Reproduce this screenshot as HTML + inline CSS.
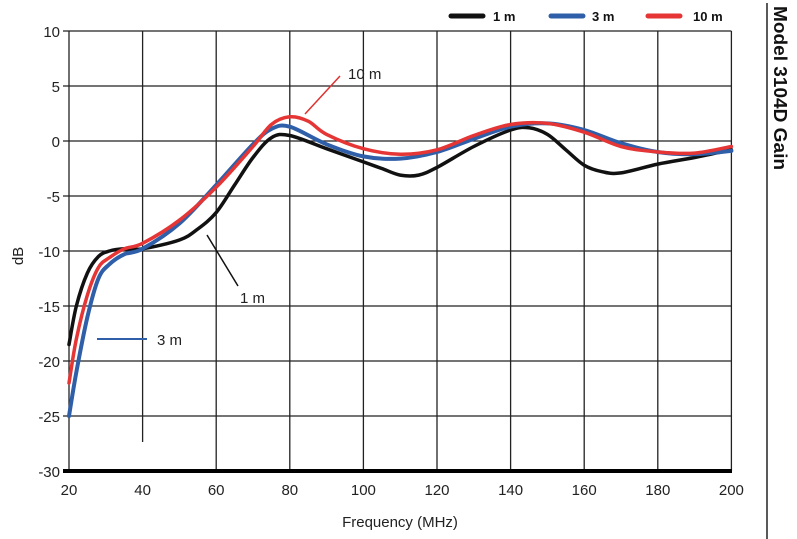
<!DOCTYPE html>
<html><head><meta charset="utf-8"><style>
html,body{margin:0;padding:0;background:#fff;}
svg{display:block;font-family:"Liberation Sans",sans-serif;}
</style></head><body>
<svg id="s" width="797" height="539" viewBox="0 0 797 539">
<g id="grid" stroke="#222" stroke-width="1.3" fill="none"></g>
<line x1="63" y1="471" x2="732" y2="471" stroke="#000" stroke-width="4"/>
<g id="ticks" font-size="15" fill="#222"></g>
<g id="curves" fill="none" stroke-linecap="round" stroke-linejoin="round"></g>
<line x1="305" y1="114" x2="340" y2="76" stroke="#e03030" stroke-width="1.5"/>
<text x="348" y="79" font-size="15" fill="#222">10 m</text>
<line x1="207" y1="235" x2="238" y2="286" stroke="#111" stroke-width="1.5"/>
<text x="240" y="303" font-size="15" fill="#222">1 m</text>
<line x1="97" y1="339" x2="147" y2="339" stroke="#2f5fa8" stroke-width="2"/>
<text x="157" y="345" font-size="15" fill="#222">3 m</text>
<line x1="451" y1="16" x2="483" y2="16" stroke="#111" stroke-width="5" stroke-linecap="round"/>
<text x="493" y="21" font-size="13" font-weight="bold" fill="#111">1 m</text>
<line x1="551" y1="16" x2="583" y2="16" stroke="#2f5fa8" stroke-width="5" stroke-linecap="round"/>
<text x="592" y="21" font-size="13" font-weight="bold" fill="#111">3 m</text>
<line x1="648" y1="16" x2="680" y2="16" stroke="#e53535" stroke-width="5" stroke-linecap="round"/>
<text x="693" y="21" font-size="13" font-weight="bold" fill="#111">10 m</text>
<text x="400" y="527" font-size="15" fill="#222" text-anchor="middle">Frequency (MHz)</text>
<text transform="translate(23,256) rotate(-90)" font-size="15" fill="#222" text-anchor="middle">dB</text>
<line x1="767" y1="3" x2="767" y2="539" stroke="#000" stroke-width="1.3"/>
<text transform="translate(774,6) rotate(90)" font-size="18" font-weight="bold" fill="#111" textLength="164" lengthAdjust="spacingAndGlyphs">Model 3104D Gain</text>
</svg>
<script>
var NS="http://www.w3.org/2000/svg";
function X(f){return 69+(f-20)*3.68;}
function Y(d){return 141-d*11.0;}
function el(p,tag,a,t){var e=document.createElementNS(NS,tag);for(var k in a)e.setAttribute(k,a[k]);if(t)e.textContent=t;p.appendChild(e);return e;}
var g=document.getElementById("grid"),tk=document.getElementById("ticks"),cv=document.getElementById("curves");
for(var f=20;f<=200;f+=20){var y2=(f==40)?442:471;el(g,"line",{x1:X(f),y1:31,x2:X(f),y2:y2});
 el(tk,"text",{x:X(f),y:495,"text-anchor":"middle"},String(f));}
for(var d=10;d>=-25;d-=5){el(g,"line",{x1:63,y1:Y(d),x2:X(200),y2:Y(d)});}
for(var d=10;d>=-30;d-=5){el(tk,"text",{x:60,y:Y(d)+6,"text-anchor":"end"},String(d));}
function path(pts){var p=pts.map(function(a){return[X(a[0]),Y(a[1])];});var s="M"+p[0][0]+","+p[0][1];
 for(var i=0;i<p.length-1;i++){var p0=p[i-1]||p[i],p1=p[i],p2=p[i+1],p3=p[i+2]||p2;
 s+=" C"+(p1[0]+(p2[0]-p0[0])/6)+","+(p1[1]+(p2[1]-p0[1])/6)+" "+(p2[0]-(p3[0]-p1[0])/6)+","+(p2[1]-(p3[1]-p1[1])/6)+" "+p2[0]+","+p2[1];}
 return s;}
var blk=[[20,-18.5],[22,-15],[25,-12],[28,-10.5],[31,-10],[35,-9.8],[40,-9.8],[50,-9],[55,-8],[60,-6.5],[65,-4],[70,-1.5],[75,0.3],[80,0.5],[90,-0.7],[100,-1.9],[105,-2.5],[110,-3.1],[115,-3.1],[120,-2.4],[130,-0.5],[140,1.0],[145,1.2],[150,0.6],[155,-0.8],[160,-2.2],[165,-2.8],[170,-2.9],[180,-2.1],[190,-1.5],[200,-0.8]];
var blu=[[20,-25],[22,-21],[25,-16],[28,-12.5],[31,-11.2],[35,-10.3],[40,-9.8],[50,-7.5],[60,-4],[70,-0.3],[75,1.1],[80,1.3],[90,-0.3],[100,-1.4],[110,-1.6],[120,-1.0],[130,0.2],[140,1.3],[150,1.6],[160,1.0],[170,-0.2],[180,-1.0],[190,-1.2],[200,-0.9]];
var red=[[20,-22],[22,-18],[25,-14],[28,-11.5],[31,-10.6],[35,-9.8],[40,-9.3],[50,-7.2],[60,-4.2],[70,-0.5],[75,1.5],[80,2.2],[85,1.8],[90,0.6],[100,-0.7],[110,-1.2],[120,-0.8],[130,0.5],[140,1.5],[150,1.6],[160,0.8],[170,-0.5],[180,-1.0],[190,-1.1],[200,-0.5]];
el(cv,"path",{d:path(blk),stroke:"#111","stroke-width":3.5});
el(cv,"path",{d:path(blu),stroke:"#2f5fa8","stroke-width":4});
el(cv,"path",{d:path(red),stroke:"#e53535","stroke-width":3.5});
</script>
</body></html>
